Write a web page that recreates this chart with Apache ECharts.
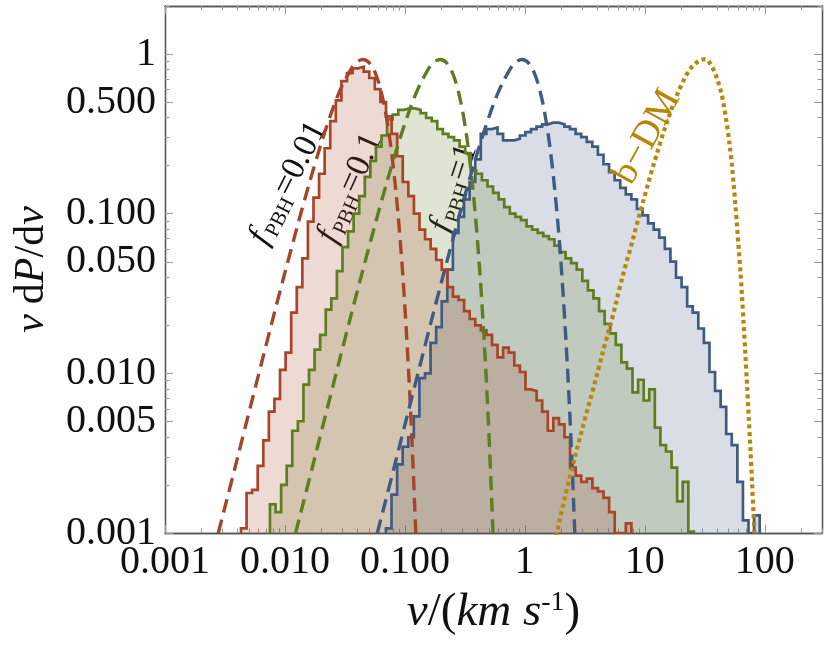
<!DOCTYPE html>
<html>
<head>
<meta charset="utf-8">
<script src="https://cdn.jsdelivr.net/npm/echarts@6/dist/echarts.min.js"></script>
<style>
html,body{margin:0;padding:0;background:#fff;}
#chart{width:830px;height:648px;}
</style>
</head>
<body>
<div id="chart"></div>
<script>
// ---------------- data ----------------
const xTickValues = [0.001, 0.01, 0.1, 1, 10, 100];
const xTickLabels = ['0.001', '0.010', '0.100', '1', '10', '100'];
const yTickValues = [0.001, 0.005, 0.01, 0.05, 0.1, 0.5, 1];
const yTickLabels = ['0.001', '0.005', '0.010', '0.050', '0.100', '0.500', '1'];
const xRange = [0.001, 300];
const yRange = [0.001, 2];

// histogram bins: equal width in log10(v)
const binWidthDex = 0.0465;
const redHistStart = 0.0043;
const greenHistStart = 0.0075;
const blueHistStart = 0.0695;

const redHist = [0.00107, 0.00178, 0.00186, 0.00263, 0.00380, 0.00575, 0.00692, 0.0105, 0.0135, 0.0240,
  0.0347, 0.0525, 0.0891, 0.126, 0.178, 0.257, 0.380, 0.513, 0.676, 0.759,
  0.813, 0.832, 0.776, 0.708, 0.603, 0.501, 0.407, 0.316, 0.229, 0.158,
  0.129, 0.100, 0.0794, 0.0692, 0.0603, 0.0513, 0.0447, 0.0347, 0.0302, 0.0288,
  0.0245, 0.0219, 0.0200, 0.0186, 0.0174, 0.0151, 0.0126, 0.0145, 0.0135, 0.0112,
  0.0102, 0.00794, 0.00776, 0.00676, 0.00575, 0.00437, 0.00525, 0.00479, 0.00398, 0.00257,
  0.00229, 0.00209, 0.00219, 0.00191, 0.00182, 0.00166, 0.00135, 0, 0, 0.00115];

const greenHist = [0.00151, 0.00135, 0.00200, 0.00263, 0.00437, 0.00501, 0.00851, 0.0105, 0.0141, 0.0174,
  0.0251, 0.0295, 0.0437, 0.0617, 0.0776, 0.100, 0.129, 0.170, 0.214, 0.263,
  0.309, 0.389, 0.417, 0.447, 0.457, 0.457, 0.447, 0.427, 0.398, 0.380,
  0.339, 0.316, 0.302, 0.288, 0.263, 0.240, 0.186, 0.178, 0.162, 0.148,
  0.135, 0.123, 0.110, 0.100, 0.0955, 0.0912, 0.0832, 0.0794, 0.0759, 0.0724,
  0.0692, 0.0631, 0.0575, 0.0525, 0.0490, 0.0447, 0.0380, 0.0331, 0.0295, 0.0245,
  0.0204, 0.0178, 0.0151, 0.0117, 0.0107, 0.00759, 0.00912, 0.00676, 0.00794, 0.00457,
  0.00355, 0.00324, 0.00257, 0.00158, 0.00209, 0.00102];

const blueHist = [0.00107, 0.00174, 0.00269, 0.00347, 0.00398, 0.00537, 0.00933, 0.0100, 0.0155, 0.0195,
  0.0282, 0.0447, 0.0759, 0.0955, 0.123, 0.158, 0.219, 0.316, 0.339, 0.347,
  0.316, 0.288, 0.288, 0.295, 0.309, 0.324, 0.339, 0.351, 0.363, 0.372,
  0.372, 0.363, 0.351, 0.339, 0.316, 0.302, 0.282, 0.263, 0.234, 0.204,
  0.182, 0.162, 0.145, 0.132, 0.123, 0.107, 0.0977, 0.0871, 0.0794, 0.0708,
  0.0603, 0.0501, 0.0398, 0.0347, 0.0263, 0.0240, 0.0191, 0.0155, 0.0102, 0.00776,
  0.00617, 0.00417, 0.00355, 0.00209, 0.00120, 0, 0.00129];

// dashed curves (f_PBH = 0.01, 0.1, 1)
const redCurveV = [0.00252, 0.00282, 0.00356, 0.00448, 0.00564, 0.00710, 0.00893, 0.01125, 0.01416, 0.01782, 0.02244, 0.02825, 0.03556, 0.0399, 0.04477, 0.05023, 0.05636, 0.06324, 0.07096, 0.07962, 0.08933, 0.1002, 0.1125, 0.1262];
const redCurveP = [0.000735, 0.00104, 0.00206, 0.00408, 0.00807, 0.0159, 0.0310, 0.0597, 0.1127, 0.206, 0.358, 0.573, 0.805, 0.891, 0.925, 0.885, 0.767, 0.586, 0.381, 0.203, 0.0839, 0.0253, 0.00509, 0.000621];
const greenCurveV = [0.01110, 0.01243, 0.01569, 0.01974, 0.02485, 0.03128, 0.03935, 0.04957, 0.06239, 0.07851, 0.09887, 0.1245, 0.1567, 0.1758, 0.1973, 0.2213, 0.2483, 0.2786, 0.3127, 0.3508, 0.3936, 0.4415, 0.4957, 0.5560];
const greenCurveP = [0.000735, 0.00104, 0.00206, 0.00408, 0.00807, 0.0159, 0.0310, 0.0597, 0.1127, 0.206, 0.358, 0.573, 0.805, 0.891, 0.925, 0.885, 0.767, 0.586, 0.381, 0.203, 0.0839, 0.0253, 0.00509, 0.000621];
const blueCurveV = [0.0534, 0.0597, 0.0754, 0.0949, 0.1195, 0.1504, 0.1891, 0.2383, 0.2999, 0.3774, 0.4753, 0.5983, 0.7532, 0.8451, 0.9482, 1.064, 1.194, 1.339, 1.503, 1.686, 1.892, 2.122, 2.383, 2.673];
const blueCurveP = [0.000735, 0.00104, 0.00206, 0.00408, 0.00807, 0.0159, 0.0310, 0.0597, 0.1127, 0.206, 0.358, 0.573, 0.805, 0.891, 0.925, 0.885, 0.767, 0.586, 0.381, 0.203, 0.0839, 0.0253, 0.00509, 0.000621];

// dotted curve (b-DM)
const bdmCurveV = [1.758, 1.858, 2.046, 2.254, 2.483, 2.818, 3.206, 3.648, 4.150, 4.721, 5.370, 6.095, 6.934, 7.656, 8.414, 9.268, 10.19, 11.22, 12.36, 13.61, 15.00, 16.52, 18.16, 20.00, 22.75, 25.88, 30.90, 33.50, 38.02, 41.88, 44.67, 46.03, 49.20, 52.48, 54.20, 55.98, 57.81, 59.70, 61.66, 63.53, 65.61, 67.76, 69.98, 72.28, 74.65, 77.09, 79.43, 82.04, 83.95];
const bdmCurveP = [0.00085, 0.00102, 0.00141, 0.00191, 0.00257, 0.00372, 0.00537, 0.00759, 0.0110, 0.0158, 0.0224, 0.0331, 0.0479, 0.0621, 0.0813, 0.106, 0.137, 0.177, 0.226, 0.287, 0.359, 0.442, 0.533, 0.631, 0.762, 0.861, 0.927, 0.912, 0.776, 0.631, 0.519, 0.457, 0.331, 0.224, 0.174, 0.132, 0.0977, 0.0708, 0.0513, 0.0372, 0.0251, 0.0166, 0.0107, 0.00676, 0.00427, 0.00269, 0.00166, 0.00102, 0.000708];

const pbhValues = ['0.01', '0.1', '1'];
const bdmLabel = 'b\u2212DM';

// ---------------- styles ----------------
const RED = '#A6452A', GREEN = '#607C20', BLUE = '#405A82', GOLD = '#B8860B';
const RED_FILL = 'rgba(166,69,42,0.2)', GREEN_FILL = 'rgba(96,124,32,0.2)', BLUE_FILL = 'rgba(64,90,130,0.2)';
const FAMILY = '"Liberation Serif"';
const FONT = '"Liberation Serif", "DejaVu Serif", serif';
const FRAME = '#555', TICK = '#999';

const L = Math.log10;
const X_MIN = L(xRange[0]), X_MAX = L(xRange[1]);
const Y_MIN = L(yRange[0]), Y_MAX = L(yRange[1]);
const lg = p => (p > 0 ? L(p) : Y_MIN);

function histData(startV, values) {
  const x0 = L(startV);
  const pts = [[x0, Y_MIN]];
  values.forEach((p, i) => pts.push([x0 + i * binWidthDex, lg(p)]));
  const xe = x0 + values.length * binWidthDex;
  pts.push([xe, lg(values[values.length - 1])]);
  pts.push([xe, Y_MIN]);
  return pts;
}
function curveData(vs, ps) { return vs.map((v, i) => [L(v), L(ps[i])]); }

const xMajor = xTickValues.map(L);
const yMajor = yTickValues.map(L);
const xMinor = [], yMinor = [];
for (let n = -3; n <= 2; n++) for (let k = 2; k <= 9; k++) {
  const v = L(k * Math.pow(10, n));
  if (v > X_MIN && v < X_MAX + 1e-9) xMinor.push(v);
}
for (let n = -3; n <= 0; n++) for (let k = 2; k <= 9; k++) {
  const v = L(k * Math.pow(10, n));
  if (v > Y_MIN && v <= Y_MAX + 1e-9 && !yMajor.some(m => Math.abs(m - v) < 1e-9)) yMinor.push(v);
}
function fmt(vals, labels) {
  return function (val) {
    for (let i = 0; i < vals.length; i++) if (Math.abs(vals[i] - val) < 1e-6) return labels[i];
    return '';
  };
}

function xAx(pos, ticks, len, labels) {
  return {
    type: 'value', position: pos, min: X_MIN, max: X_MAX, gridIndex: 0,
    axisLine: { show: true, onZero: false, lineStyle: { color: FRAME, width: 1.3 } },
    axisTick: { show: true, inside: true, length: len, customValues: ticks, lineStyle: { color: TICK, width: 1 } },
    axisLabel: labels ? { show: true, customValues: xMajor, formatter: fmt(xMajor, xTickLabels), fontFamily: FONT, fontSize: 40, color: '#111', margin: 9 } : { show: false },
    splitLine: { show: false }
  };
}
function yAx(pos, ticks, len, labels) {
  return {
    type: 'value', position: pos, min: Y_MIN, max: Y_MAX, gridIndex: 0,
    axisLine: { show: true, onZero: false, lineStyle: { color: FRAME, width: 1.3 } },
    axisTick: { show: true, inside: true, length: len, customValues: ticks, lineStyle: { color: TICK, width: 1 } },
    axisLabel: labels ? { show: true, customValues: yMajor, formatter: fmt(yMajor, yTickLabels), fontFamily: FONT, fontSize: 40, color: '#111', margin: 9 } : { show: false },
    splitLine: { show: false }
  };
}

const xAxes = [xAx('bottom', xMajor, 8, true), xAx('bottom', xMinor, 4.5, false), xAx('top', xMajor, 8, false), xAx('top', xMinor, 4.5, false)];
const yAxes = [yAx('left', yMajor, 8, true), yAx('left', yMinor, 4.5, false), yAx('right', yMajor, 8, false), yAx('right', yMinor, 4.5, false)];

Object.assign(xAxes[0], {
  name: '{i|v}{r|/(}{i|km s}{s|-1}{r|)}', nameLocation: 'middle', nameGap: 56, nameMoveOverlap: false,
  nameTextStyle: {
    rich: {
      i: { fontFamily: FONT, fontStyle: 'italic', fontSize: 47, color: '#111', lineHeight: 52, verticalAlign: 'top' },
      r: { fontFamily: FONT, fontSize: 47, color: '#111', lineHeight: 52, verticalAlign: 'top' },
      s: { fontFamily: FONT, fontSize: 28, color: '#111', lineHeight: 30, verticalAlign: 'top' }
    }
  }
});
Object.assign(yAxes[0], {
  name: '{i|v} {r|d}{i|P}{r|/d}{i|v}', nameLocation: 'middle', nameGap: 112, nameRotate: 90, nameMoveOverlap: false,
  nameTextStyle: {
    fontFamily: FONT, fontSize: 40,
    rich: {
      i: { fontFamily: FONT, fontStyle: 'italic', fontSize: 42, color: '#111' },
      r: { fontFamily: FONT, fontSize: 42, color: '#111' }
    }
  }
});

function areaSeries(data, fill) {
  return {
    type: 'line', step: 'end', data: data, showSymbol: false, symbol: 'none', silent: true,
    lineStyle: { width: 0, opacity: 0 }, areaStyle: { color: fill, opacity: 1, origin: 'start' }, z: 2
  };
}
function stepSeries(data, color) {
  return {
    type: 'line', step: 'end', data: data, showSymbol: false, symbol: 'none', silent: true,
    lineStyle: { width: 2.7, color: color, join: 'miter' }, z: 3
  };
}
function curveSeries(data, color, type, width) {
  return {
    type: 'line', data: data, smooth: 0.35, showSymbol: false, symbol: 'none', silent: true,
    lineStyle: { width: width, color: color, type: type, cap: 'butt' }, z: 4
  };
}

const redH = histData(redHistStart, redHist);
const greenH = histData(greenHistStart, greenHist);
const blueH = histData(blueHistStart, blueHist);

// text measuring for the rotated f_PBH annotations
const mctx = document.createElement('canvas').getContext('2d');
function tw(text, font) { mctx.font = font; return mctx.measureText(text).width; }

function subLabel(cx, cy, deg, val) {
  const FS = 34, SS = 21;
  const fMain = 'italic ' + FS + 'px ' + FAMILY;
  const fSub = SS + 'px ' + FAMILY;
  const fNum = FS + 'px ' + FAMILY;
  const tail = '=' + val;
  const wF = tw('f', fMain) + 2.5;
  const wS = tw('PBH', fSub) + 1.5;
  const wN = tw(tail, fNum);
  const x0 = -(wF + wS + wN) / 2;
  const base = { verticalAlign: 'middle', align: 'left', fill: '#111' };
  return {
    type: 'group', x: cx, y: cy, rotation: deg * Math.PI / 180, silent: true, z: 10,
    children: [
      { type: 'text', x: x0, y: 0, style: Object.assign({ text: 'f', font: fMain, lineHeight: FS }, base) },
      { type: 'text', x: x0 + wF, y: 9, style: Object.assign({ text: 'PBH', font: fSub, lineHeight: SS }, base) },
      { type: 'text', x: x0 + wF + wS, y: 0, style: Object.assign({ text: tail, font: fNum, lineHeight: FS }, base) }
    ]
  };
}

const option = {
  animation: false,
  backgroundColor: '#ffffff',
  grid: { left: 165, right: 8, top: 6, bottom: 115, containLabel: false, outerBoundsMode: 'none' },
  xAxis: xAxes,
  yAxis: yAxes,
  series: [
    areaSeries(blueH, BLUE_FILL),
    areaSeries(greenH, GREEN_FILL),
    areaSeries(redH, RED_FILL),
    stepSeries(blueH, BLUE),
    stepSeries(greenH, GREEN),
    stepSeries(redH, RED),
    curveSeries(curveData(redCurveV, redCurveP), RED, [14, 7.5], 3.4),
    curveSeries(curveData(greenCurveV, greenCurveP), GREEN, [14, 7.5], 3.4),
    curveSeries(curveData(blueCurveV, blueCurveP), BLUE, [14, 7.5], 3.4),
    curveSeries(curveData(bdmCurveV, bdmCurveP), GOLD, [4, 3.5], 4.2)
  ],
  graphic: [
    subLabel(288, 183, 63, pbhValues[0]),
    subLabel(350, 188, 66, pbhValues[1]),
    subLabel(454, 188, 72, pbhValues[2]),
    {
      type: 'text', x: 647, y: 137, rotation: 61 * Math.PI / 180, silent: true, z: 10,
      style: { text: bdmLabel, align: 'center', verticalAlign: 'middle', fontFamily: FONT, fontSize: 38, fill: GOLD }
    }
  ]
};

const chart = echarts.init(document.getElementById('chart'), null, { renderer: 'canvas' });
chart.setOption(option);
</script>
</body>
</html>
